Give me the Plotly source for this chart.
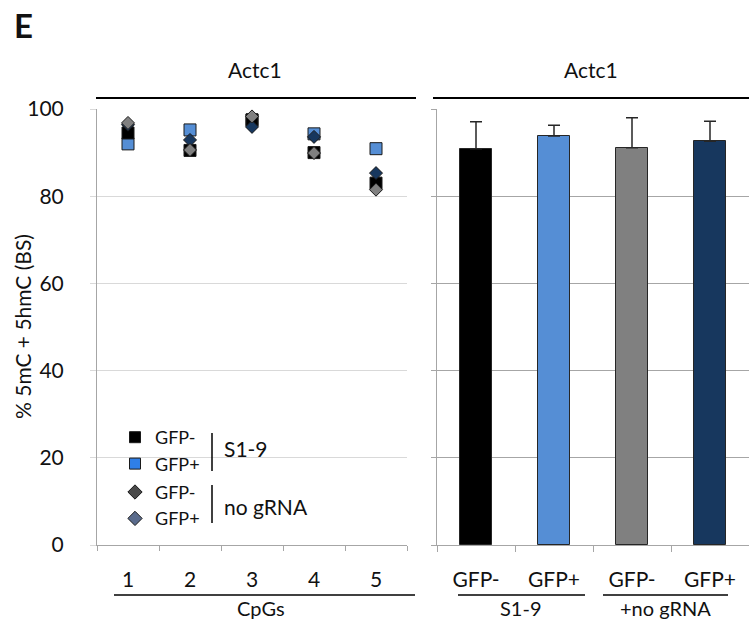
import plotly.graph_objects as go

W, H = 749, 622
FONT = "Lato"

# ---------------- data ----------------
cpgs = [1, 2, 3, 4, 5]
cpg_labels = ["1", "2", "3", "4", "5"]
s19_gfp_neg = [94.5, 90.5, 97.5, 90.0, 83.0]
s19_gfp_pos = [92.0, 95.2, 97.5, 94.3, 90.9]
nog_gfp_neg = [96.8, 90.6, 98.3, 89.9, 81.5]
nog_gfp_pos = [96.4, 92.9, 95.9, 93.6, 85.3]

bar_pos = [0, 1, 2, 3]
bar_labels = ["GFP-", "GFP+", "GFP-", "GFP+"]
bar_means = [90.9, 93.8, 91.1, 92.6]
bar_err = [6.2, 2.5, 6.9, 4.6]
bar_colors = ["#000000", "#558ED5", "#808080", "#17375E"]

y_ticks = [0, 20, 40, 60, 80, 100]


def px(x):
    return x / W


def py(y):
    return 1 - y / H


fig = go.Figure()

# scatter series (draw order: blue square, black square, navy diamond, gray diamond)
mk_line = dict(color="#1a1a1a", width=1)
fig.add_trace(go.Scatter(x=cpgs, y=s19_gfp_pos, mode="markers", showlegend=False,
                         marker=dict(symbol="square", size=12, color="#558ED5", line=mk_line),
                         xaxis="x", yaxis="y"))
fig.add_trace(go.Scatter(x=cpgs, y=s19_gfp_neg, mode="markers", showlegend=False,
                         marker=dict(symbol="square", size=12, color="#000000", line=mk_line),
                         xaxis="x", yaxis="y"))
fig.add_trace(go.Scatter(x=cpgs, y=nog_gfp_pos, mode="markers", showlegend=False,
                         marker=dict(symbol="diamond", size=10, color="#17375E", line=mk_line),
                         xaxis="x", yaxis="y"))
fig.add_trace(go.Scatter(x=cpgs, y=nog_gfp_neg, mode="markers", showlegend=False,
                         marker=dict(symbol="diamond", size=10, color="#808080", line=mk_line),
                         xaxis="x", yaxis="y"))

# legend-only entries
leg = [
    ("GFP-", "square", "#000000", "s19"),
    ("GFP+", "square", "#2F7FE8", "s19"),
    ("GFP-", "diamond", "#4A4A4A", "nog"),
    ("GFP+", "diamond", "#5A6B8C", "nog"),
]
for name, sym, col, grp in leg:
    fig.add_trace(go.Scatter(x=[None], y=[None], mode="markers", name=name,
                             legendgroup=grp, showlegend=True,
                             marker=dict(symbol=sym, size=11, color=col, line=mk_line),
                             xaxis="x", yaxis="y"))

# bars
fig.add_trace(go.Bar(x=bar_pos, y=bar_means, width=0.41, showlegend=False,
                     marker=dict(color=bar_colors, line=dict(color="#262626", width=1)),
                     error_y=dict(type="data", symmetric=False, array=bar_err,
                                  arrayminus=[0] * len(bar_err), color="#262626",
                                  thickness=1.5, width=6),
                     xaxis="x2", yaxis="y2"))

ydom = [py(545), py(109)]
tickfont = dict(family=FONT, size=21, color="#111111")

fig.update_layout(
    width=W, height=H,
    margin=dict(l=0, r=0, t=0, b=0, autoexpand=False),
    paper_bgcolor="white", plot_bgcolor="white",
    font=dict(family=FONT, color="#111111"),
    bargap=0,
    xaxis=dict(domain=[px(97), px(407)], range=[0.5, 5.5], tickmode="array",
               tickvals=cpgs, ticktext=cpg_labels, ticks="", showgrid=False,
               zeroline=False, showline=True, linecolor="#A6A6A6", linewidth=1,
               tickfont=tickfont, ticklabelstandoff=16, automargin=False,
               minor=dict(tickmode="array", tickvals=[0.5, 1.5, 2.5, 3.5, 4.5, 5.5],
                          ticks="outside", ticklen=5, tickcolor="#A6A6A6", showgrid=False)),
    yaxis=dict(domain=ydom, range=[0, 100], tickmode="array", tickvals=y_ticks,
               ticks="outside", ticklen=6, tickcolor="#D9D9D9", showgrid=True,
               gridcolor="#D9D9D9", zeroline=False, showline=True, linecolor="#A6A6A6",
               tickfont=tickfont, ticklabelstandoff=22, automargin=False),
    xaxis2=dict(domain=[px(437), px(749)], range=[-0.5, 3.5], tickmode="array",
                tickvals=bar_pos, ticktext=bar_labels, ticks="", showgrid=False,
                zeroline=False, showline=True, linecolor="#A6A6A6", linewidth=1,
                tickfont=tickfont, ticklabelstandoff=16, automargin=False,
                minor=dict(tickmode="array", tickvals=[-0.5, 0.5, 1.5, 2.5, 3.5],
                           ticks="outside", ticklen=6, tickcolor="#A6A6A6", showgrid=False)),
    yaxis2=dict(domain=ydom, range=[0, 100], anchor="x2", tickmode="array",
                tickvals=y_ticks, ticks="outside", ticklen=5, tickcolor="#A6A6A6",
                showgrid=True, gridcolor="#A6A6A6", zeroline=False, showline=True,
                linecolor="#A6A6A6", showticklabels=False, automargin=False),
    legend=dict(x=px(115), y=py(419), xanchor="left", yanchor="top",
                bgcolor="rgba(0,0,0,0)", font=dict(family=FONT, size=18, color="#111111"),
                traceorder="grouped", tracegroupgap=2, itemclick=False),
)

shapes = []
line_k = dict(color="#000000", width=2)
# top header lines
shapes.append(dict(type="line", xref="paper", yref="paper", x0=px(96), x1=px(416),
                   y0=py(98), y1=py(98), line=line_k))
shapes.append(dict(type="line", xref="paper", yref="paper", x0=px(433), x1=px(749),
                   y0=py(98), y1=py(98), line=line_k))
# bottom group lines
line_b = dict(color="#000000", width=1.5)
for x0, x1 in [(114, 415), (458, 585), (603, 728)]:
    shapes.append(dict(type="line", xref="paper", yref="paper", x0=px(x0), x1=px(x1),
                       y0=py(595), y1=py(595), line=line_b))
# legend brackets
for y0, y1 in [(433, 471), (485, 523)]:
    shapes.append(dict(type="line", xref="paper", yref="paper", x0=px(212), x1=px(212),
                       y0=py(y0), y1=py(y1), line=line_b))

ann = []
def add_text(text, x, y, size=21, xanchor="center", **kw):
    ann.append(dict(text=text, x=px(x), y=py(y), xref="paper", yref="paper",
                    showarrow=False, xanchor=xanchor, yanchor="middle",
                    font=dict(family=FONT, size=size, color="#111111"), **kw))

add_text("<b>E</b>", 12, 25, size=33, xanchor="left")
add_text("Actc1", 255, 70)
add_text("Actc1", 591, 70)
add_text("CpGs", 261, 608, size=20)
add_text("S1-9", 520, 608, size=20)
add_text("+no gRNA", 665, 608, size=20)
add_text("S1-9", 222, 448, xanchor="left")
add_text("no gRNA", 222, 506, xanchor="left")
add_text("% 5mC + 5hmC (BS)", 22, 327, textangle=-90)

fig.update_layout(shapes=shapes, annotations=ann)
fig.write_html("out.html", config={"displayModeBar": False},
               post_script="document.body.style.margin='0';document.body.style.overflow='hidden';")
